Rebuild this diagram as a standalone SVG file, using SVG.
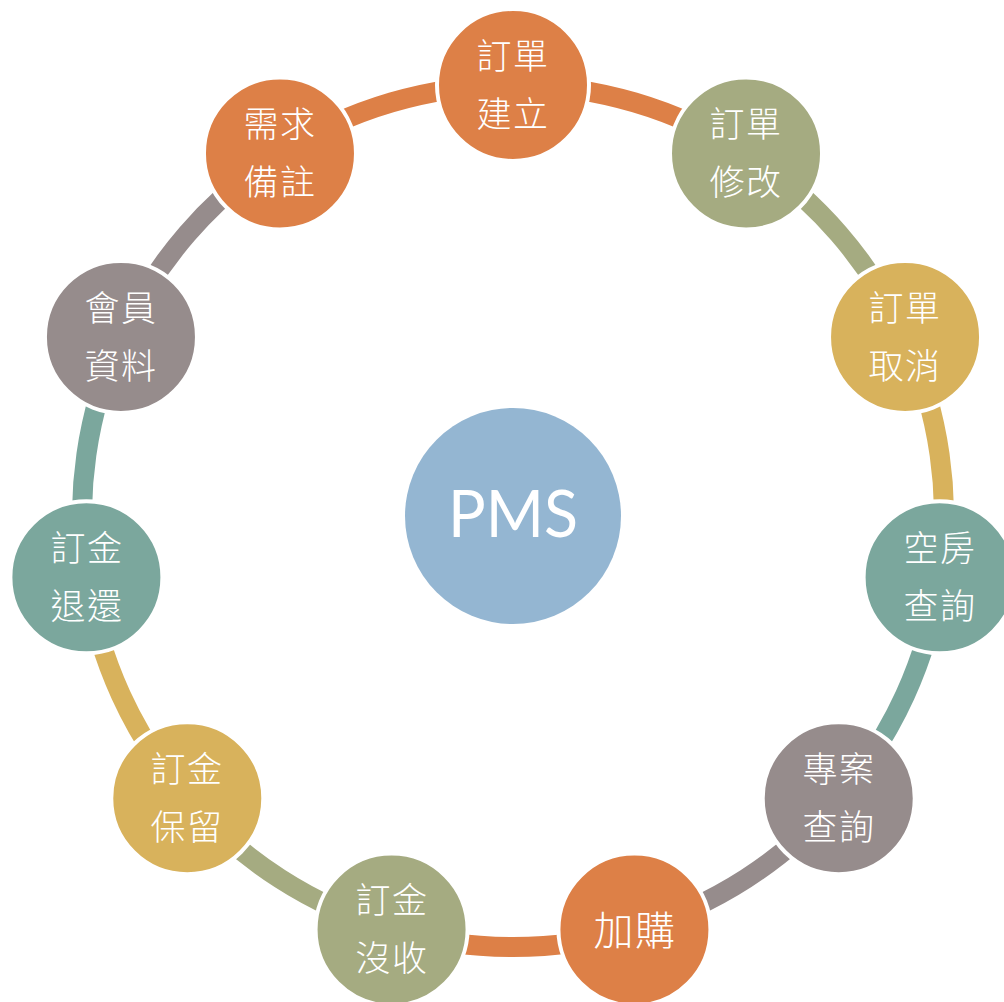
<svg xmlns="http://www.w3.org/2000/svg" width="1004" height="1002" viewBox="0 0 1004 1002">
<style>
.arc{fill:none;stroke-width:20}
.node{stroke:#fff;stroke-width:4}
.o{fill:#DD8047}.ol{fill:#A5AB81}.y{fill:#D8B25C}.t{fill:#7BA79D}.g{fill:#968C8C}
.so{stroke:#DD8047}.sol{stroke:#A5AB81}.sy{stroke:#D8B25C}.st{stroke:#7BA79D}.sg{stroke:#968C8C}
.lbl{fill:#fff;font-family:"Noto Sans CJK TC","Noto Sans CJK SC",sans-serif;font-size:35px;font-weight:300;letter-spacing:1.5px;text-anchor:middle}
</style>
<rect width="1004" height="1002" fill="#fff"/>
<g id="connectors">
<path class="arc so" d="M513,85 A431,431 0 0 1 746.02,153.42"/>
<path class="arc sol" d="M746.02,153.42 A431,431 0 0 1 905.05,336.95"/>
<path class="arc sy" d="M905.05,336.95 A431,431 0 0 1 939.61,577.34"/>
<path class="arc st" d="M939.61,577.34 A431,431 0 0 1 838.73,798.24"/>
<path class="arc sg" d="M838.73,798.24 A431,431 0 0 1 634.43,929.54"/>
<path class="arc so" d="M634.43,929.54 A431,431 0 0 1 391.57,929.54"/>
<path class="arc sol" d="M391.57,929.54 A431,431 0 0 1 187.27,798.24"/>
<path class="arc sy" d="M187.27,798.24 A431,431 0 0 1 86.39,577.34"/>
<path class="arc st" d="M86.39,577.34 A431,431 0 0 1 120.95,336.95"/>
<path class="arc sg" d="M120.95,336.95 A431,431 0 0 1 279.98,153.42"/>
<path class="arc so" d="M279.98,153.42 A431,431 0 0 1 513,85"/>
</g>
<g id="center">
<circle cx="513" cy="516" r="108" fill="#94B6D2"/>
<text x="513" y="537" fill="#fff" font-family="Lato, 'Liberation Sans', sans-serif" font-weight="400" font-size="66" text-anchor="middle" textLength="130" lengthAdjust="spacingAndGlyphs">PMS</text>
</g>
<g id="n0"><circle class="node o" cx="513" cy="85" r="76"/><text class="lbl" x="513" y="69">訂單</text><text class="lbl" x="513" y="127">建立</text></g>
<g id="n1"><circle class="node ol" cx="746.02" cy="153.42" r="76"/><text class="lbl" x="746" y="137">訂單</text><text class="lbl" x="746" y="195">修改</text></g>
<g id="n2"><circle class="node y" cx="905.05" cy="336.95" r="76"/><text class="lbl" x="905" y="321">訂單</text><text class="lbl" x="905" y="379">取消</text></g>
<g id="n3"><circle class="node t" cx="939.61" cy="577.34" r="76"/><text class="lbl" x="940" y="561">空房</text><text class="lbl" x="940" y="619">查詢</text></g>
<g id="n4"><circle class="node g" cx="838.73" cy="798.24" r="76"/><text class="lbl" x="839" y="782">專案</text><text class="lbl" x="839" y="840">查詢</text></g>
<g id="n5"><circle class="node o" cx="634.43" cy="929.54" r="76"/><text class="lbl" x="635" y="945" style="font-size:40px">加購</text></g>
<g id="n6"><circle class="node ol" cx="391.57" cy="929.54" r="76"/><text class="lbl" x="392" y="913">訂金</text><text class="lbl" x="392" y="971">沒收</text></g>
<g id="n7"><circle class="node y" cx="187.27" cy="798.24" r="76"/><text class="lbl" x="187" y="782">訂金</text><text class="lbl" x="187" y="840">保留</text></g>
<g id="n8"><circle class="node t" cx="86.39" cy="577.34" r="76"/><text class="lbl" x="87" y="561">訂金</text><text class="lbl" x="87" y="619">退還</text></g>
<g id="n9"><circle class="node g" cx="120.95" cy="336.95" r="76"/><text class="lbl" x="121" y="321">會員</text><text class="lbl" x="121" y="379">資料</text></g>
<g id="n10"><circle class="node o" cx="279.98" cy="153.42" r="76"/><text class="lbl" x="280" y="137">需求</text><text class="lbl" x="280" y="195">備註</text></g>
</svg>
